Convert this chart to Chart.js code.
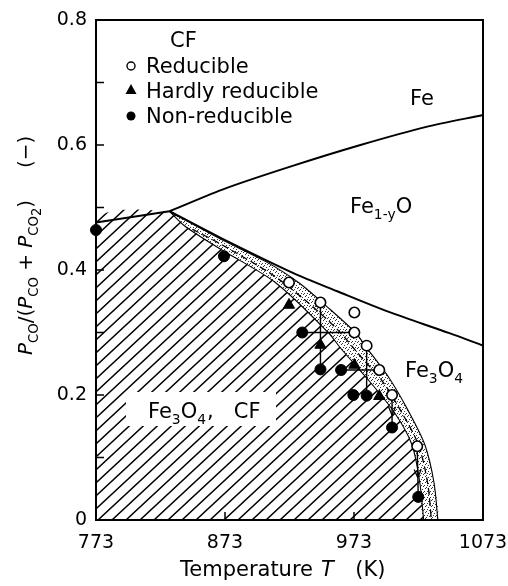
<!DOCTYPE html>
<html><head><meta charset="utf-8">
<script src="https://cdn.jsdelivr.net/npm/chart.js@4.4.0/dist/chart.umd.min.js"></script>
<style>html,body{margin:0;padding:0;background:#fff;}#wrap{width:508px;height:586px;}</style>
</head><body><div id="wrap"><canvas id="c" width="508" height="586"></canvas></div>
<script>
// ---- data ----
const xTicks = [773, 873, 973, 1073];
const yTickLabels = ['0', '0.2', '0.4', '0.6', '0.8'];

// phase boundaries [T, Pco ratio]
const feFe3o4 = [[773, 0.476], [830, 0.494]];
const feFeo = [[830, 0.494], [874, 0.531], [926, 0.567], [978, 0.600], [1029, 0.629], [1073, 0.648]];
const feoFe3o4 = [[830, 0.494], [870, 0.451], [926, 0.395], [960, 0.366], [1000, 0.333], [1047, 0.299], [1073, 0.279]];
// CF reduction band edges
const bandUpper = [[830, 0.494], [870, 0.449], [905, 0.413], [930, 0.38], [955, 0.336], [974, 0.300], [983, 0.275], [1000, 0.228], [1015, 0.175], [1028, 0.12], [1035, 0.06], [1038, 0.0]];
const bandLower = [[830, 0.494], [842, 0.470], [869, 0.434], [912, 0.38], [953, 0.30], [963, 0.274], [985, 0.222], [1005, 0.17], [1018, 0.12], [1024, 0.06], [1027, 0.0]];
const bandMid = [[848, 0.465], [870, 0.441], [910, 0.392], [935, 0.352], [960, 0.305], [978, 0.262], [995, 0.222], [1010, 0.172], [1023, 0.12], [1030, 0.06], [1033, 0.0]];

// experimental points
const reducibleT = [922.6, 947, 973.3, 973.3, 982.8, 992.6, 1002.5, 1022.0];
const reducibleY = [0.380, 0.348, 0.332, 0.300, 0.279, 0.240, 0.200, 0.118];
const hardT = [922.6, 947, 973.3, 992.6];
const hardY = [0.344, 0.280, 0.248, 0.198];
const nonT = [773, 872.2, 932.9, 947, 963.0, 972.5, 982.8, 1002.5, 1022.8];
const nonY = [0.464, 0.422, 0.300, 0.241, 0.240, 0.200, 0.199, 0.148, 0.037];
// connecting segments: [setA, indexA, setB, indexB, arrow]
const links = [['non', 2, 'red', 3, 0], ['red', 1, 'non', 3, 0], ['non', 4, 'red', 5, 0], ['red', 4, 'non', 6, 0], ['red', 6, 'non', 7, 1], ['red', 7, 'non', 8, 1]];

// ---- build ----
const FONT = '"DejaVu Sans", sans-serif';
const P = a => a.map(([x, y]) => ({x, y}));
const sets = {
  red: reducibleT.map((t, i) => ({x: t, y: reducibleY[i]})),
  hard: hardT.map((t, i) => ({x: t, y: hardY[i]})),
  non: nonT.map((t, i) => ({x: t, y: nonY[i]}))
};

function hatchPattern() {
  const w = 14, h = 13;
  const c = document.createElement('canvas'); c.width = w; c.height = h;
  const g = c.getContext('2d'); g.strokeStyle = '#000'; g.lineWidth = 1.5;
  g.beginPath();
  for (const k of [-1, 0, 1]) { g.moveTo(-1, h + h * k + h / w); g.lineTo(w + 1, h * k - h / w); }
  g.stroke();
  return g.createPattern(c, 'repeat');
}
function stipplePattern() {
  const c = document.createElement('canvas'); c.width = 6; c.height = 6;
  const g = c.getContext('2d'); g.fillStyle = '#333';
  for (const [x, y] of [[0, 1], [3, 0], [5, 2], [2, 3], [4, 5], [1, 5]]) g.fillRect(x, y, 1, 1);
  return g.createPattern(c, 'repeat');
}

const hatchPoly = [{x: 773, y: 0}].concat(P(feFe3o4), P(bandLower).slice(1));
const bandPoly = P(bandUpper).concat(P(bandLower).slice().reverse());

const lineDs = (data, extra) => Object.assign({type: 'line', data, showLine: true, pointRadius: 0, borderColor: '#000', borderWidth: 2, tension: 0.3, fill: false, clip: false}, extra || {});

const datasets = [
  {label: 'Reducible', data: sets.red, pointStyle: 'circle', pointRadius: 5.2, backgroundColor: '#fff', borderColor: '#000', borderWidth: 1.6, showLine: false, clip: false, order: 0},
  {label: 'Hardly reducible', data: sets.hard, pointStyle: 'triangle', pointRadius: 6.5, backgroundColor: '#000', borderColor: '#000', borderWidth: 1, showLine: false, clip: false, order: 0},
  {label: 'Non-reducible', data: sets.non, pointStyle: 'circle', pointRadius: 5.5, backgroundColor: '#000', borderColor: '#000', borderWidth: 1, showLine: false, clip: false, order: 0}
];
links.forEach(([a, i, b, j]) => datasets.push(lineDs([sets[a][i], sets[b][j]], {borderWidth: 1.4, tension: 0, order: 1})));
datasets.push(lineDs(P(feFe3o4), {tension: 0, order: 2}));
datasets.push(lineDs(P(feFeo), {order: 2}));
datasets.push(lineDs(P(feoFe3o4), {order: 2}));
datasets.push(lineDs(P(bandUpper), {borderWidth: 1.1, order: 3}));
datasets.push(lineDs(P(bandLower), {borderWidth: 1.1, order: 3}));
datasets.push(lineDs(P(bandMid), {borderWidth: 1.3, borderDash: [7, 4], order: 3}));
datasets.push(lineDs(bandPoly, {borderWidth: 0, fill: 'shape', backgroundColor: stipplePattern(), clip: 0, order: 5}));
datasets.push(lineDs(hatchPoly, {borderWidth: 0, fill: 'shape', backgroundColor: hatchPattern(), clip: 0, order: 6}));

function runs(ctx, x, y, parts, size) {
  for (const p of parts) {
    const sz = p.sub ? size * 0.66 : size;
    ctx.font = (p.it ? 'italic ' : '') + sz + 'px ' + FONT;
    const dy = p.sub === 2 ? size * 0.45 : (p.sub ? size * 0.28 : 0);
    ctx.fillText(p.t, x, y + dy);
    x += ctx.measureText(p.t).width + (p.gap || 0);
  }
  return x;
}

const decor = {
  id: 'decor',
  afterDatasetsDraw(chart) {
    const {ctx, chartArea: a, scales: {x, y}} = chart;
    ctx.save();
    // arrowheads on the vertical links
    ctx.strokeStyle = '#000'; ctx.lineWidth = 1.3;
    links.filter(l => l[4]).forEach(([sa, i, sb, j]) => {
      const p = sets[sa][i], q = sets[sb][j];
      const x1 = x.getPixelForValue(p.x), y1 = y.getPixelForValue(p.y);
      const x2 = x.getPixelForValue(q.x), y2 = y.getPixelForValue(q.y);
      const tx = x1 + (x2 - x1) * 0.62, ty = y1 + (y2 - y1) * 0.62;
      const ang = Math.atan2(y2 - y1, x2 - x1);
      ctx.beginPath();
      for (const s of [-1, 1]) { ctx.moveTo(tx, ty); ctx.lineTo(tx - 9 * Math.cos(ang + s * 0.4), ty - 9 * Math.sin(ang + s * 0.4)); }
      ctx.stroke();
    });
    // clear hatch behind region label
    ctx.fillStyle = '#fff';
    ctx.fillRect(a.left + 30, 392, 150, 34);
    // frame
    ctx.strokeStyle = '#000'; ctx.lineWidth = 2;
    ctx.strokeRect(a.left, a.top, a.right - a.left, a.bottom - a.top);
    // inward ticks
    ctx.lineWidth = 1.5; ctx.beginPath();
    for (let k = 1; k < 8; k++) { const py = y.getPixelForValue(k / 10); ctx.moveTo(a.left, py); ctx.lineTo(a.left + 8, py); }
    for (const v of xTicks.slice(1, -1)) { const px = x.getPixelForValue(v); ctx.moveTo(px, a.bottom); ctx.lineTo(px, a.bottom - 8); }
    ctx.stroke();
    ctx.fillStyle = '#000'; ctx.textBaseline = 'alphabetic'; ctx.textAlign = 'left';
    // legend
    ctx.font = '21px ' + FONT;
    ctx.fillText('CF', 170, 47);
    ctx.fillText('Reducible', 146, 73);
    ctx.fillText('Hardly reducible', 146, 98);
    ctx.fillText('Non-reducible', 146, 123);
    ctx.lineWidth = 1.4;
    ctx.beginPath(); ctx.arc(131, 66, 4, 0, Math.PI * 2); ctx.fillStyle = '#fff'; ctx.fill(); ctx.stroke();
    ctx.fillStyle = '#000';
    ctx.beginPath(); ctx.moveTo(131, 84); ctx.lineTo(136.5, 94); ctx.lineTo(125.5, 94); ctx.closePath(); ctx.fill();
    ctx.beginPath(); ctx.arc(131, 116, 4.5, 0, Math.PI * 2); ctx.fill();
    // region labels
    runs(ctx, 410, 105, [{t: 'Fe'}], 21);
    runs(ctx, 350, 213, [{t: 'Fe'}, {t: '1-y', sub: 1}, {t: 'O'}], 21);
    runs(ctx, 405, 377, [{t: 'Fe'}, {t: '3', sub: 1}, {t: 'O'}, {t: '4', sub: 1}], 21);
    runs(ctx, 148, 418, [{t: 'Fe'}, {t: '3', sub: 1}, {t: 'O'}, {t: '4', sub: 1, gap: 1}, {t: ',   CF'}], 21);
    // x title
    runs(ctx, 180, 576, [{t: 'Temperature', gap: 8}, {t: 'T', it: true, gap: 8}, {t: '  (K)'}], 21);
    // y title
    ctx.translate(32, 355); ctx.rotate(-Math.PI / 2);
    runs(ctx, 0, 0, [{t: 'P', it: true}, {t: 'CO', sub: 1}, {t: '/('}, {t: 'P', it: true}, {t: 'CO', sub: 1}, {t: ' + '}, {t: 'P', it: true}, {t: 'CO', sub: 1}, {t: '2', sub: 2}, {t: ')'}, {t: '     (\u2212)'}], 20);
    ctx.restore();
  }
};

new Chart(document.getElementById('c'), {
  type: 'scatter',
  data: {datasets},
  options: {
    responsive: false, animation: false, devicePixelRatio: 1,
    layout: {padding: {top: 20, right: 25, left: 0, bottom: 0}},
    plugins: {legend: {display: false}, tooltip: {enabled: false}},
    scales: {
      x: {type: 'linear', min: 773, max: 1073,
        afterBuildTicks: s => { s.ticks = xTicks.map(v => ({value: v})); },
        afterFit: s => { s.height = 66; s.paddingLeft = 0; s.paddingRight = 0; },
        grid: {display: false, drawTicks: false}, border: {display: false},
        ticks: {color: '#000', font: {family: FONT, size: 19}, padding: 12, maxRotation: 0, autoSkip: false, callback: v => String(v)}},
      y: {type: 'linear', min: 0, max: 0.8,
        afterFit: s => { s.width = 96; s.paddingTop = 0; s.paddingBottom = 0; },
        grid: {display: false, drawTicks: false}, border: {display: false},
        ticks: {stepSize: 0.1, color: '#000', font: {family: FONT, size: 19}, padding: 9, autoSkip: false,
          callback: v => { const k = Math.round(v * 10); return k % 2 === 0 ? yTickLabels[k / 2] : ''; }}}
    }
  },
  plugins: [decor]
});
</script></body></html>
